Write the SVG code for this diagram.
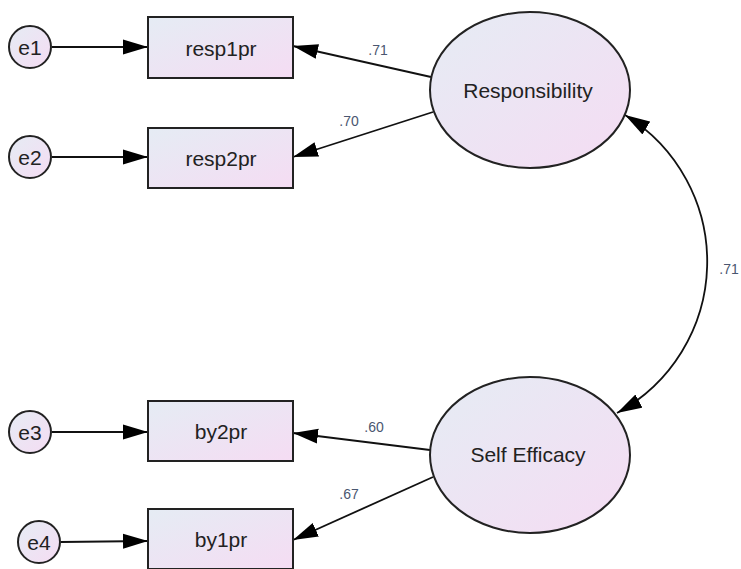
<svg xmlns="http://www.w3.org/2000/svg" width="741" height="569" viewBox="0 0 741 569">
<defs>
<linearGradient id="g" x1="0" y1="0" x2="1" y2="1">
<stop offset="0" stop-color="#e5ecf4"/>
<stop offset="1" stop-color="#f5dcf3"/>
</linearGradient>
<marker id="ah" markerUnits="userSpaceOnUse" markerWidth="26" markerHeight="16" refX="25" refY="8" orient="auto-start-reverse">
<path d="M0,0.5 L25,8 L0,15.5 Z" fill="#000"/>
</marker>
<style>
.n{fill:url(#g);stroke:#222;stroke-width:2}
.t{font-family:"Liberation Sans",Arial,sans-serif;font-size:21px;fill:#222;text-anchor:middle}
.l{font-family:"Liberation Sans",Arial,sans-serif;font-size:14px;fill:#4a5670;text-anchor:middle}
.c{fill:none;stroke:#111;stroke-width:1.8}
</style>
</defs>
<rect width="741" height="569" fill="#fff"/>
<g id="connectors">
<line class="c" x1="52" y1="47" x2="148" y2="47" marker-end="url(#ah)"/>
<line class="c" x1="52" y1="157" x2="148" y2="157" marker-end="url(#ah)"/>
<line class="c" x1="52" y1="432" x2="148" y2="432" marker-end="url(#ah)"/>
<line class="c" x1="61" y1="542" x2="148" y2="541" marker-end="url(#ah)"/>
<line class="c" x1="431" y1="77" x2="293" y2="46" marker-end="url(#ah)"/>
<line class="c" x1="433" y1="112" x2="293" y2="157" marker-end="url(#ah)"/>
<line class="c" x1="430" y1="450" x2="293" y2="433" marker-end="url(#ah)"/>
<line class="c" x1="433" y1="477" x2="293" y2="540" marker-end="url(#ah)"/>
<path class="c" d="M625,115 A172,172 0 0 1 617,413" marker-start="url(#ah)" marker-end="url(#ah)"/>
<text class="l" x="378" y="55">.71</text>
<text class="l" x="349" y="126">.70</text>
<text class="l" x="374" y="432">.60</text>
<text class="l" x="349" y="499">.67</text>
<text class="l" x="729" y="274">.71</text>
</g>
<g id="e1"><circle class="n" cx="30" cy="47" r="21"/><text class="t" x="30" y="55">e1</text></g>
<g id="e2"><circle class="n" cx="30" cy="157" r="21"/><text class="t" x="30" y="165">e2</text></g>
<g id="e3"><circle class="n" cx="30" cy="432" r="21"/><text class="t" x="30" y="440">e3</text></g>
<g id="e4"><circle class="n" cx="39" cy="542" r="21"/><text class="t" x="39" y="550">e4</text></g>
<g id="resp1pr"><rect class="n" x="148" y="17" width="145" height="61"/><text class="t" x="221" y="56">resp1pr</text></g>
<g id="resp2pr"><rect class="n" x="148" y="128" width="145" height="60"/><text class="t" x="221" y="166">resp2pr</text></g>
<g id="by2pr"><rect class="n" x="148" y="401" width="145" height="60"/><text class="t" x="221" y="439">by2pr</text></g>
<g id="by1pr"><rect class="n" x="148" y="509" width="145" height="60"/><text class="t" x="221" y="547">by1pr</text></g>
<g id="Responsibility"><ellipse class="n" cx="530" cy="90" rx="100" ry="78"/><text class="t" x="528" y="98">Responsibility</text></g>
<g id="SelfEfficacy"><ellipse class="n" cx="530" cy="455" rx="100" ry="78"/><text class="t" x="528" y="462">Self Efficacy</text></g>
</svg>
